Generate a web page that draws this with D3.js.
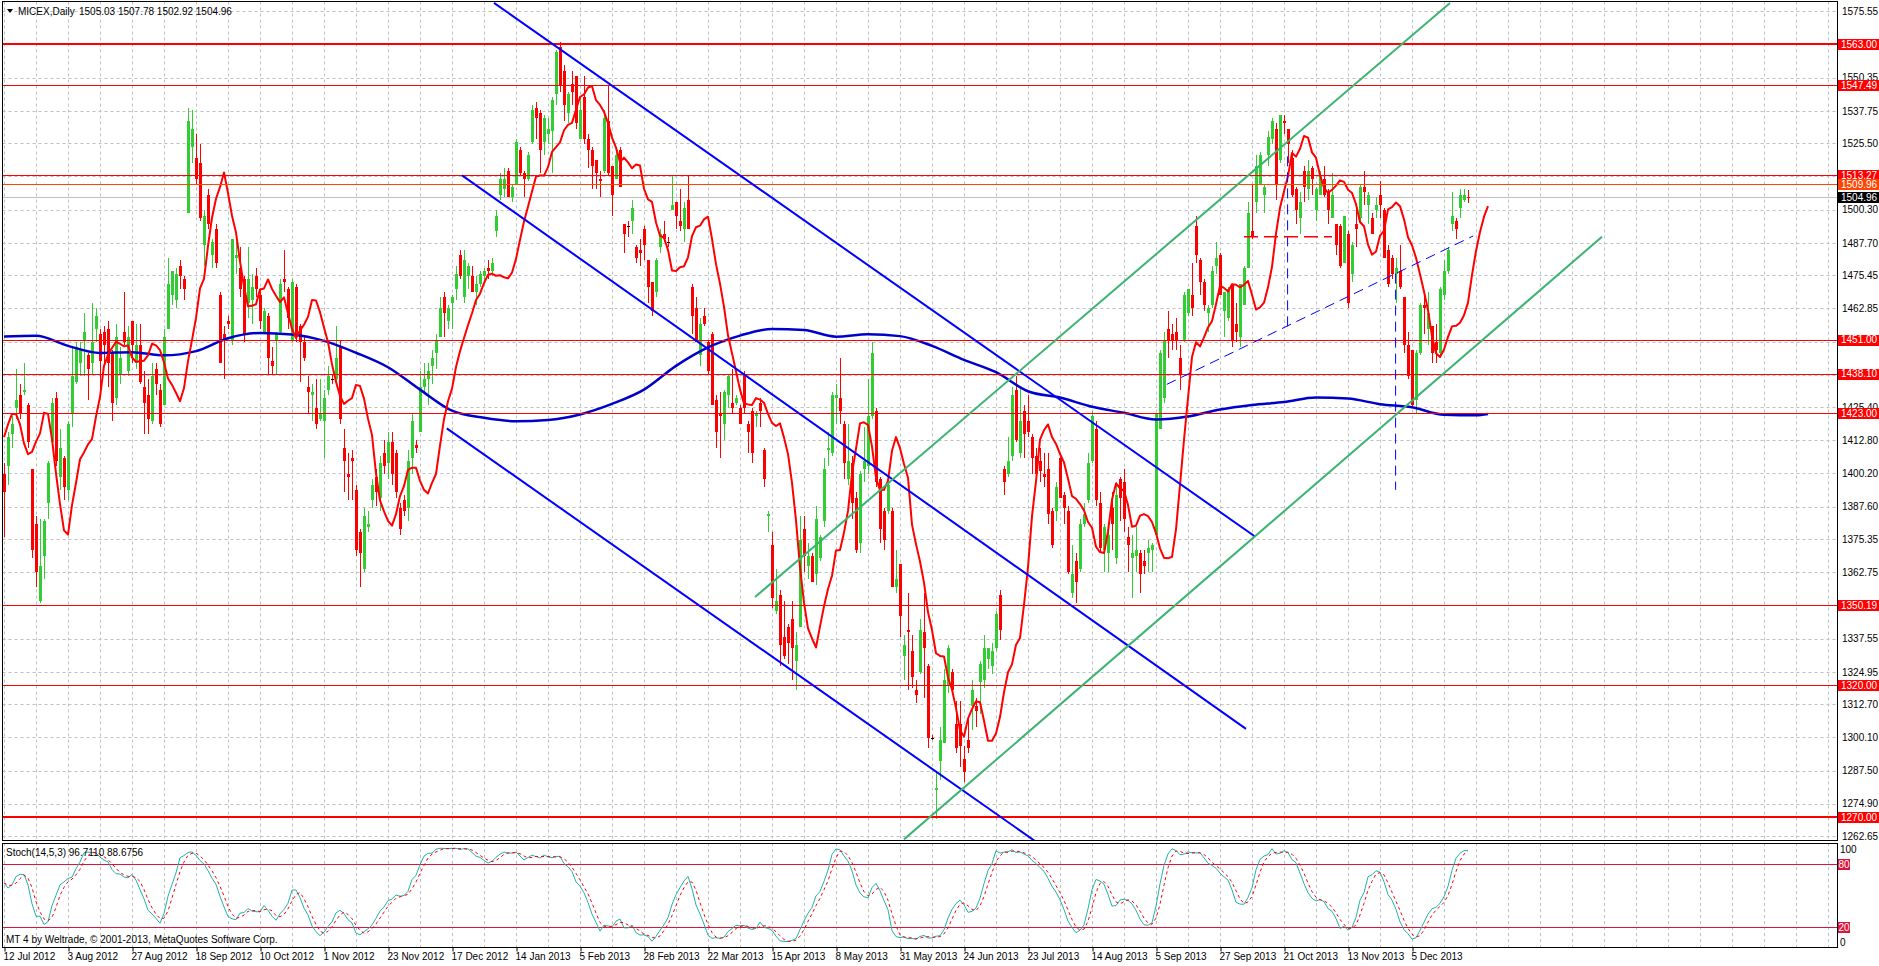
<!DOCTYPE html>
<html><head><meta charset="utf-8">
<script src="https://cdn.jsdelivr.net/npm/d3@7/dist/d3.min.js"></script>
<style>
html,body{margin:0;padding:0;background:#fff;overflow:hidden;}
svg{display:block;}
text{font-family:"Liberation Sans",Arial,sans-serif;}
</style></head><body>
<svg id="c" width="1879" height="966"></svg>
<script>
// ---------------- DATA ----------------
const opens = [
1400,1403,1415,1425,1430,1431,1426,1402,1381,1352,
1369,1389,1412,1429,1399,1406,1394,1423,1435,1442,
1451,1445,1442,1455,1453,1454,1455,1446,1429,1438,
1454,1439,1458,1442,1449,1433,1430,1420,1440,1432,
1426,1455,1468,1466,1479,1474,1499,1524,1520,1518,
1487,1506,1483,1493,1468,1453,1458,1451,1482,1478,
1474,1465,1466,1475,1468,1454,1460,1443,1451,1454,
1474,1470,1451,1471,1456,1450,1433,1430,1425,1421,
1420,1432,1436,1436,1448,1410,1400,1406,1394,1378,
1364,1380,1390,1399,1391,1408,1404,1412,1408,1387,
1390,1387,1406,1411,1416,1433,1436,1441,1446,1452,
1467,1458,1465,1470,1483,1467,1475,1475,1469,1472,
1475,1478,1477,1492,1506,1508,1515,1505,1510,1523,
1514,1512,1526,1539,1537,1526,1529,1530,1544,1562,
1553,1537,1548,1551,1527,1543,1527,1523,1519,1512,
1515,1534,1517,1512,1523,1495,1494,1496,1486,1485,
1493,1481,1473,1469,1486,1491,1488,1500,1503,1496,
1493,1504,1471,1463,1445,1460,1450,1453,1428,1423,
1419,1430,1427,1427,1425,1438,1419,1424,1422,1427,
1409,1384,1373,1348,1354,1338,1342,1345,1329,1342,
1379,1365,1369,1362,1368,1382,1409,1408,1429,1429,
1419,1398,1404,1391,1374,1402,1403,1422,1424,1398,
1386,1386,1386,1357,1366,1331,1341,1333,1318,1325,
1340,1327,1300,1280,1291,1298,1320,1325,1305,1305,
1292,1299,1312,1312,1321,1322,1330,1327,1334,1354,
1402,1400,1407,1432,1408,1424,1420,1414,1407,1405,
1400,1402,1386,1386,1406,1392,1386,1355,1367,1364,
1381,1390,1405,1417,1389,1371,1370,1387,1368,1398,
1397,1376,1368,1369,1370,1367,1370,1371,1377,1417,
1429,1455,1453,1454,1444,1451,1461,1468,1494,1481,
1473,1461,1464,1479,1483,1462,1459,1472,1457,1452,
1464,1478,1492,1503,1510,1506,1521,1527,1531,1519,
1534,1531,1520,1508,1497,1515,1508,1516,1500,1506,
1512,1507,1497,1495,1494,1480,1491,1476,1495,1497,
1509,1502,1497,1500,1506,1500,1485,1482,1476,1477,
1467,1449,1447,1428,1446,1464,1455,1456,1450,1446,
1468,1477,1495,1496,1501,1504,1505.03];
const highs = [
1404,1416,1422,1440,1434,1442,1427,1402,1384,1383,
1383,1405,1429,1431,1417,1407,1420,1448,1450,1450,
1461,1446,1465,1463,1455,1456,1458,1447,1457,1448,
1469,1456,1458,1457,1457,1439,1436,1442,1442,1434,
1455,1482,1477,1478,1481,1475,1539,1538,1529,1525,
1500,1508,1489,1495,1469,1456,1460,1489,1490,1486,
1475,1486,1476,1478,1470,1463,1461,1448,1454,1474,
1485,1471,1474,1472,1457,1452,1437,1434,1436,1436,
1432,1441,1438,1456,1451,1417,1408,1409,1396,1379,
1387,1386,1398,1402,1407,1413,1416,1416,1409,1389,
1392,1409,1423,1413,1439,1442,1442,1447,1453,1467,
1469,1464,1468,1479,1485,1485,1480,1479,1475,1477,
1478,1481,1482,1500,1514,1516,1516,1510,1527,1524,
1515,1522,1540,1541,1538,1536,1535,1543,1561,1564,
1555,1545,1553,1551,1543,1551,1529,1524,1519,1515,
1538,1547,1517,1522,1524,1495,1496,1504,1487,1489,
1494,1481,1473,1482,1493,1496,1490,1513,1503,1508,
1503,1513,1472,1467,1459,1463,1451,1454,1430,1431,
1432,1438,1440,1430,1426,1439,1420,1425,1424,1429,
1410,1386,1378,1364,1356,1352,1343,1352,1340,1384,
1384,1374,1370,1388,1377,1406,1416,1431,1434,1444,
1420,1419,1407,1393,1401,1418,1436,1450,1425,1399,
1387,1397,1387,1371,1366,1339,1355,1339,1322,1345,
1355,1328,1301,1287,1304,1326,1335,1326,1314,1314,
1297,1307,1322,1315,1329,1339,1334,1336,1348,1356,
1403,1414,1433,1437,1433,1426,1430,1415,1410,1410,
1408,1408,1387,1397,1408,1393,1388,1373,1370,1383,
1389,1408,1424,1420,1393,1381,1378,1393,1397,1399,
1402,1380,1377,1380,1371,1371,1375,1374,1423,1447,
1454,1462,1457,1459,1449,1469,1470,1480,1498,1482,
1474,1464,1479,1488,1484,1469,1471,1472,1465,1472,
1479,1503,1510,1521,1522,1510,1530,1535,1533,1536,
1536,1531,1523,1509,1507,1517,1519,1517,1509,1515,
1517,1508,1514,1495,1495,1498,1492,1488,1501,1510,
1515,1507,1499,1505,1511,1501,1487,1483,1482,1487,
1467,1454,1447,1447,1465,1468,1469,1456,1457,1471,
1481,1486,1507,1497,1508,1508,1507.78];
const lows = [
1376,1396,1410,1421,1421,1430,1410,1368,1357,1351,
1360,1383,1412,1403,1394,1390,1390,1418,1434,1437,
1437,1428,1438,1450,1432,1441,1433,1420,1426,1434,
1449,1437,1442,1440,1434,1415,1415,1419,1430,1418,
1426,1455,1464,1463,1470,1466,1499,1518,1510,1496,
1479,1493,1478,1478,1442,1436,1455,1449,1476,1467,
1450,1459,1457,1467,1455,1454,1438,1438,1438,1453,
1469,1455,1450,1450,1435,1443,1423,1420,1417,1420,
1406,1430,1434,1435,1419,1393,1390,1390,1369,1357,
1363,1378,1387,1388,1386,1400,1398,1396,1391,1377,
1384,1382,1400,1408,1416,1431,1426,1434,1440,1452,
1452,1455,1455,1466,1474,1465,1470,1469,1464,1471,
1473,1474,1475,1490,1504,1505,1505,1503,1510,1513,
1505,1511,1525,1527,1514,1521,1525,1514,1540,1545,
1534,1533,1540,1531,1527,1525,1516,1508,1508,1505,
1514,1513,1498,1512,1509,1484,1490,1491,1480,1479,
1481,1465,1460,1467,1484,1488,1486,1500,1493,1492,
1488,1493,1453,1450,1441,1456,1438,1426,1410,1406,
1413,1425,1423,1426,1419,1423,1408,1404,1418,1418,
1395,1378,1349,1347,1327,1330,1328,1322,1318,1342,
1363,1360,1359,1358,1367,1380,1403,1407,1419,1419,
1398,1396,1383,1370,1370,1397,1400,1421,1395,1374,
1371,1385,1357,1355,1338,1322,1318,1319,1313,1324,
1315,1296,1299,1269,1284,1298,1317,1317,1294,1289,
1283,1294,1303,1304,1309,1319,1326,1324,1333,1337,
1392,1399,1405,1412,1406,1406,1414,1400,1397,1397,
1395,1381,1372,1382,1391,1381,1362,1353,1351,1363,
1380,1389,1404,1388,1370,1363,1363,1371,1366,1382,
1378,1363,1353,1363,1355,1362,1363,1363,1376,1417,
1427,1444,1447,1447,1432,1450,1460,1460,1480,1468,
1462,1454,1463,1476,1468,1452,1458,1448,1450,1448,
1464,1478,1489,1499,1510,1499,1517,1525,1504,1518,
1529,1518,1505,1495,1491,1503,1504,1506,1496,1506,
1505,1495,1497,1483,1478,1480,1463,1473,1486,1495,
1502,1495,1491,1497,1497,1482,1471,1474,1465,1470,
1446,1436,1425,1423,1445,1453,1449,1442,1442,1444,
1466,1476,1492,1489,1497,1503,1502.92];
const closes = [
1393,1414,1419,1428,1423,1432,1412,1371,1363,1365,
1382,1404,1427,1405,1410,1395,1419,1437,1448,1447,
1454,1440,1450,1460,1443,1449,1442,1427,1452,1444,
1450,1452,1449,1449,1435,1427,1421,1437,1434,1419,
1452,1472,1477,1476,1475,1470,1534,1531,1512,1497,
1498,1495,1488,1480,1442,1451,1457,1489,1483,1470,
1453,1474,1471,1470,1458,1462,1444,1441,1453,1472,
1473,1459,1473,1452,1450,1444,1431,1431,1419,1423,
1429,1437,1436,1444,1421,1405,1399,1405,1371,1370,
1384,1381,1396,1393,1404,1403,1412,1400,1393,1379,
1386,1405,1420,1410,1433,1436,1439,1444,1451,1463,
1461,1463,1467,1476,1475,1481,1479,1469,1472,1476,
1477,1477,1480,1498,1512,1512,1505,1509,1526,1514,
1512,1521,1538,1535,1523,1535,1531,1542,1560,1547,
1540,1544,1545,1533,1538,1527,1523,1517,1514,1511,
1535,1514,1506,1521,1509,1491,1494,1501,1482,1484,
1487,1471,1462,1481,1491,1489,1488,1502,1498,1494,
1501,1493,1460,1450,1457,1457,1439,1426,1416,1422,
1431,1437,1425,1429,1419,1425,1416,1408,1423,1424,
1398,1385,1353,1352,1335,1331,1336,1334,1335,1375,
1369,1369,1359,1383,1376,1402,1410,1430,1430,1424,
1404,1405,1389,1371,1400,1405,1422,1446,1397,1379,
1375,1396,1357,1360,1346,1335,1340,1323,1316,1341,
1334,1300,1300,1281,1299,1322,1334,1318,1296,1297,
1287,1296,1318,1310,1328,1334,1334,1333,1347,1341,
1397,1405,1430,1413,1420,1415,1416,1406,1400,1401,
1399,1385,1373,1395,1391,1387,1363,1362,1359,1381,
1385,1404,1422,1390,1372,1380,1377,1381,1392,1391,
1383,1373,1370,1371,1362,1365,1372,1373,1423,1446,
1451,1451,1451,1451,1438,1468,1470,1463,1483,1473,
1464,1463,1477,1482,1468,1469,1470,1451,1454,1472,
1478,1499,1490,1517,1521,1509,1528,1534,1510,1536,
1533,1525,1506,1500,1503,1509,1515,1512,1508,1513,
1506,1500,1506,1487,1479,1498,1465,1487,1493,1509,
1507,1506,1491,1502,1502,1482,1472,1476,1478,1471,
1449,1437,1426,1446,1464,1463,1461,1446,1447,1470,
1477,1485,1498,1493,1506,1506,1504.96];

// date labels, one every 16 bars
const dateLabels = ["12 Jul 2012","3 Aug 2012","27 Aug 2012","18 Sep 2012","10 Oct 2012","1 Nov 2012",
 "23 Nov 2012","17 Dec 2012","14 Jan 2013","5 Feb 2013","28 Feb 2013","22 Mar 2013","15 Apr 2013",
 "8 May 2013","31 May 2013","24 Jun 2013","23 Jul 2013","14 Aug 2013","5 Sep 2013","27 Sep 2013",
 "21 Oct 2013","13 Nov 2013","5 Dec 2013"];
const priceTicks = [1575.55,1562.95,1550.35,1537.75,1525.50,1512.90,1500.30,1487.70,1475.45,1462.85,
 1450.25,1437.65,1425.40,1412.80,1400.20,1387.60,1375.35,1362.75,1350.15,1337.55,1324.95,1312.70,
 1300.10,1287.50,1274.90,1262.65];
const levelPrices = [1563.00,1547.49,1513.27,1509.96,1451.00,1438.10,1423.00,1350.19,1320.00,1270.00];
const lastPrice = 1504.96;
const stochLevels = [80,20];

// long moving average, bar index -> value
const blueMaBars = [0,8,16,24,32,40,48,56,64,72,80,88,96,104,112,120,128,136,144,152,160,168,176,184,
 192,200,208,216,224,232,240,248,256,264,272,280,288,296,304,312,320,328,336,344,352,360,368,371];
const blueMaVals = [1452.2,1452.4,1448.6,1445.9,1446.2,1445.0,1446.6,1451.5,1453.5,1452.9,1450.5,1446.0,
 1440.5,1432.0,1424.0,1421.3,1420.0,1420.5,1422.6,1426.6,1432.0,1441.0,1448.0,1452.5,1455.0,1454.6,
 1452.1,1453.0,1452.3,1448.6,1443.3,1438.6,1431.4,1429.0,1425.5,1423.2,1420.7,1421.8,1424.5,1426.2,
 1427.3,1429.0,1428.6,1426.5,1425.3,1422.5,1422.3,1422.8];
// first values of the shifted fast MA (before the chart history)
const redMaLead = [1414,1418.8,1422.8,1422.8,1418.8,1411.6,1407.5,1408.4,1412.3];
// first %K values of the stochastic (before a full window exists)
const stochLeadK = [62,57,60,68,70,70,60,42,30];

// drawn objects: [bar1, price1, bar2, price2]
const blueChannel = [[122.5,1578.7,312.75,1376.3],[114.5,1513.3,310.5,1303.3],[110.7,1417.3,258,1260.5]];
const greenChannel = [[187.75,1353.3,361.5,1578.7],[225,1261.4,399.5,1490.0]];
const blueDashed = [[290.7,1434,367.3,1490.3],[320.9,1456,320.9,1522],[347.9,1476,347.9,1394]];
const redDashed = [[310,1490,332,1490]];

// ---------------- DRAW ----------------
const svg = d3.select("#c");
const L = 2.5, R = 1837, mTop = 1.5, mBot = 840, sTop = 843, sBot = 947.5;
const N = closes.length;
const x = d3.scaleLinear().domain([0, 366]).range([4, 1468]);
const y = d3.scaleLinear().domain([1270, 1563]).range([816.7, 44.3]);
const ys = d3.scaleLinear().domain([20, 80]).range([926.7, 864]);
const px = v => Math.round(v) + 0.5;

svg.append("rect").attr("width",1879).attr("height",966).attr("fill","#fff");
const defs = svg.append("defs");
defs.append("clipPath").attr("id","cm").append("rect").attr("x",L).attr("y",mTop).attr("width",R-L).attr("height",mBot-mTop);
defs.append("clipPath").attr("id","cs").append("rect").attr("x",L).attr("y",sTop).attr("width",R-L).attr("height",sBot-sTop);

const gM = svg.append("g").attr("clip-path","url(#cm)");
const gS = svg.append("g").attr("clip-path","url(#cs)");

// vertical grid
const gridBars = d3.range(0, 460, 8);
[[gM,mTop,mBot],[gS,sTop,sBot]].forEach(([g,t,b]) => {
  g.selectAll(null).data(gridBars).enter().append("line")
   .attr("x1",d=>px(x(d))).attr("x2",d=>px(x(d))).attr("y1",t).attr("y2",b)
   .attr("stroke","#c0c0c0").attr("stroke-dasharray","3,3");
});
// horizontal grid
gM.selectAll(null).data(priceTicks).enter().append("line")
  .attr("x1",L).attr("x2",R).attr("y1",d=>px(y(d))).attr("y2",d=>px(y(d)))
  .attr("stroke","#c0c0c0").attr("stroke-dasharray","3,3");

// current price line
gM.append("line").attr("x1",L).attr("x2",R).attr("y1",px(y(lastPrice))).attr("y2",px(y(lastPrice)))
  .attr("stroke","#c0c0c0");

// candles
const cg = gM.append("g").attr("shape-rendering","crispEdges");
d3.range(N).forEach(i => {
  const o = opens[i], c = closes[i], h = highs[i], l = lows[i];
  const col = c > o ? "#32CD32" : (c < o ? "#FF0000" : "#000");
  const cx = Math.round(x(i));
  cg.append("line").attr("x1",cx+0.5).attr("x2",cx+0.5).attr("y1",y(h)).attr("y2",y(l))
    .attr("stroke", c===o ? "#FF0000" : col).attr("stroke-width",1);
  const top = y(Math.max(o,c)), bot = y(Math.min(o,c));
  cg.append("rect").attr("x",cx-1).attr("y",top).attr("width",3).attr("height",Math.max(1,bot-top)).attr("fill",col);
});

// long MA
gM.append("path").datum(blueMaBars.map((b,i)=>[b,blueMaVals[i]]))
  .attr("d", d3.line().x(d=>x(d[0])).y(d=>y(d[1])).curve(d3.curveMonotoneX))
  .attr("fill","none").attr("stroke","#0000CD").attr("stroke-width",2.5);

// fast MA: 5-period SMA of closes shifted forward 5 bars
const redMa = redMaLead.map((v,i)=>[i,v]);
for (let i = 4; i < N; i++) {
  const m = d3.mean(closes.slice(i-4, i+1));
  redMa.push([i+5, m]);
}
gM.append("path").datum(redMa)
  .attr("d", d3.line().x(d=>x(d[0])).y(d=>y(d[1])))
  .attr("fill","none").attr("stroke","#FF0000").attr("stroke-width",2).attr("stroke-linejoin","round");

// level lines
levelPrices.forEach(p => {
  const thick = (p===1563 || p===1270);
  const col = p===1509.96 ? "#FF4500" : "#FF0000";
  gM.append("line").attr("x1",L).attr("x2",R)
    .attr("y1", thick ? Math.round(y(p)) : px(y(p))).attr("y2", thick ? Math.round(y(p)) : px(y(p)))
    .attr("stroke",col).attr("stroke-width", thick?2:1);
});

// trend objects
const seg = (g, arr, col, w, dash) => g.selectAll(null).data(arr).enter().append("line")
  .attr("x1",d=>x(d[0])).attr("y1",d=>y(d[1])).attr("x2",d=>x(d[2])).attr("y2",d=>y(d[3]))
  .attr("stroke",col).attr("stroke-width",w).attr("stroke-dasharray",dash||null);
seg(gM, blueChannel, "#0000FF", 2);
seg(gM, greenChannel, "#3CB371", 2);
seg(gM, blueDashed, "#0000FF", 1, "10,6");
seg(gM, redDashed, "#FF0000", 1.5, "14,6");

// stochastic (14,5,3)
const num = [], den = [], K = [], D = [];
for (let i = 0; i < N; i++) {
  const s = Math.max(0, i-13);
  const hh = d3.max(highs.slice(s, i+1)), ll = d3.min(lows.slice(s, i+1));
  num.push(closes[i]-ll); den.push(hh-ll);
}
for (let i = 0; i < N; i++) {
  if (i < stochLeadK.length) { K.push(stochLeadK[i]); continue; }
  const s = Math.max(0, i-4);
  const a = d3.sum(num.slice(s,i+1)), b = d3.sum(den.slice(s,i+1));
  K.push(b>0 ? 100*a/b : 50);
}
for (let i = 0; i < N; i++) D.push(d3.mean(K.slice(Math.max(0,i-2), i+1)));

stochLevels.forEach(v => gS.append("line").attr("x1",L).attr("x2",R).attr("y1",px(ys(v))).attr("y2",px(ys(v)))
  .attr("stroke","#DC143C"));
gS.append("path").datum(K).attr("d", d3.line().x((d,i)=>x(i)).y(d=>ys(d)))
  .attr("fill","none").attr("stroke","#20B2AA").attr("stroke-width",1);
gS.append("path").datum(D).attr("d", d3.line().x((d,i)=>x(i)).y(d=>ys(d)))
  .attr("fill","none").attr("stroke","#FF0000").attr("stroke-width",1).attr("stroke-dasharray","3,3");

// frames
svg.append("rect").attr("x",L).attr("y",mTop).attr("width",R-L).attr("height",mBot-mTop)
  .attr("fill","none").attr("stroke","#000").attr("shape-rendering","crispEdges");
svg.append("rect").attr("x",L).attr("y",sTop).attr("width",R-L).attr("height",sBot-sTop)
  .attr("fill","none").attr("stroke","#000").attr("shape-rendering","crispEdges");

// right price axis
const ay = svg.append("g").attr("transform",`translate(${R},0)`)
  .call(d3.axisRight(y).tickValues(priceTicks).tickSize(0).tickPadding(5).tickFormat(d3.format(".2f")));
ay.select(".domain").remove();
ay.selectAll("text").attr("font-size",10).attr("fill","#000").attr("font-family","Liberation Sans, Arial, sans-serif");

// level boxes
const boxes = levelPrices.map(p => ({p, col: p===1509.96 ? "#FF4500" : "#FF0000"}));
boxes.push({p:lastPrice, col:"#000"});
boxes.forEach(b => {
  const yy = y(b.p);
  svg.append("rect").attr("x",R+0.5).attr("y",Math.round(yy)-5.5).attr("width",1879-R).attr("height",11)
    .attr("fill",b.col).attr("shape-rendering","crispEdges");
  svg.append("text").attr("x",R+4).attr("y",yy+3.8).attr("font-size",10).attr("fill","#fff")
    .text(b.p.toFixed(2));
});

// stoch axis labels
svg.append("text").attr("x",R+3).attr("y",853).attr("font-size",10).text("100");
svg.append("text").attr("x",R+3).attr("y",945.5).attr("font-size",10).text("0");
stochLevels.forEach(v => {
  const yy = ys(v);
  svg.append("rect").attr("x",R+0.5).attr("y",Math.round(yy)-5.5).attr("width",12).attr("height",11)
    .attr("fill","#DC143C").attr("shape-rendering","crispEdges");
  svg.append("text").attr("x",R+1.5).attr("y",yy+3.8).attr("font-size",10).attr("fill","#fff").text(v);
});

// bottom time axis
const labelBars = dateLabels.map((d,i)=>i*16);
const ax = svg.append("g").attr("transform",`translate(0,${sBot})`)
  .call(d3.axisBottom(x).tickValues(labelBars).tickSize(4).tickPadding(2).tickFormat((d,i)=>dateLabels[i]));
ax.select(".domain").remove();
ax.selectAll(".tick line").attr("stroke","#000").attr("transform","translate(0.5,0)");
ax.selectAll("text").attr("font-size",10).attr("fill","#000").attr("text-anchor","start")
  .attr("dx",-1).attr("dy","0.6em").attr("font-family","Liberation Sans, Arial, sans-serif");

// titles
svg.append("path").attr("d","M7,9 L13,9 L10,13 Z").attr("fill","#000");
svg.append("text").attr("x",18).attr("y",15).attr("font-size",10).text("MICEX,Daily");
svg.append("text").attr("x",79).attr("y",15).attr("font-size",10).text("1505.03 1507.78 1502.92 1504.96");
svg.append("text").attr("x",6).attr("y",856).attr("font-size",10).text("Stoch(14,5,3) 96.7110 88.6756");
svg.append("text").attr("x",6).attr("y",943).attr("font-size",10)
  .text("MT 4 by Weltrade, \u00A9 2001-2013, MetaQuotes Software Corp.");
</script>
</body></html>
